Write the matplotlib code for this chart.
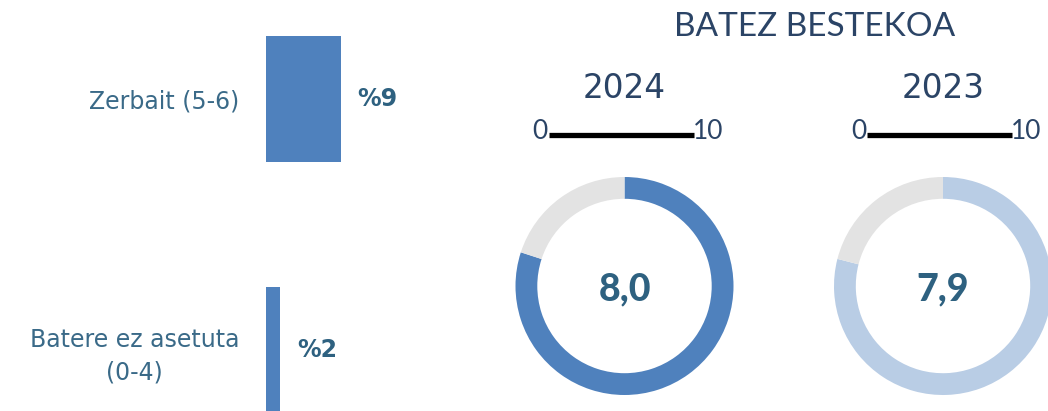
import matplotlib
matplotlib.use("Agg")
import matplotlib.pyplot as plt

plt.rcParams['font.family'] = ['Lato', 'DejaVu Sans']

# ---- data ----
categories = ["Zerbait (5-6)", "Batere ez asetuta\n(0-4)"]
shares = [9.0, 1.7]              # % (bar lengths)
share_labels = ["%9", "%2"]
years = ["2024", "2023"]
averages = [8.0, 7.9]            # mean score, scale 0-10
scale_max = 10
avg_labels = ["8,0", "7,9"]

BLUE = "#4F81BD"
LIGHT = "#B9CDE5"
GREY = "#E3E3E3"
NAVY = "#2B4466"
TEAL = "#3A6A88"
VAL = "#2E6180"
WIDE = ['DejaVu Sans']

W, H = 1048, 411
fig = plt.figure(figsize=(W / 100, H / 100), dpi=100)

def px_axes(x0, y0_top, w, h, **kw):
    return fig.add_axes([x0 / W, 1 - (y0_top + h) / H, w / W, h / H], **kw)

# ---- left: bars ----
axb = px_axes(266, 0, 200, 411)
ypos = list(range(len(categories)))
axb.barh(ypos, shares, height=0.502, color=BLUE)
axb.set_xlim(0, 24)
axb.set_ylim(1.243, -0.394)
axb.set_yticks(ypos)
axb.set_yticklabels(categories, fontsize=17, color=TEAL, family=WIDE)
for t in axb.get_yticklabels():
    t.set_multialignment('center')
    t.set_linespacing(1.4)
axb.tick_params(axis='y', length=0, pad=19)
axb.set_xticks([])
for s in axb.spines.values():
    s.set_visible(False)
for y, v, lab in zip(ypos, shares, share_labels):
    axb.annotate(lab, (v, y), xytext=(12, 0), textcoords='offset points',
                 ha='left', va='center', fontsize=17, fontweight='bold', color=VAL,
                 family=WIDE)

# ---- overlay for titles ----
axo = fig.add_axes([0, 0, 1, 1], zorder=-1)
axo.set_xlim(0, W)
axo.set_ylim(H, 0)
axo.axis('off')
axo.text(815, 27, "BATEZ BESTEKOA", ha='center', va='center', fontsize=24, color=NAVY)

centers = [624.5, 943]
R = 109
for cx, yr, avg, lab, col in zip(centers, years, averages, avg_labels, [BLUE, LIGHT]):
    axo.text(cx, 88, yr, ha='center', va='center', fontsize=23.5, color=NAVY, family=WIDE)
    # scale 0 — 10
    axo.plot([cx - 76, cx + 69], [135, 135], color='black', lw=3.8, solid_capstyle='butt')
    axo.text(cx - 77, 131, "0", ha='right', va='center', fontsize=19, color=NAVY)
    axo.text(cx + 68, 131, str(scale_max), ha='left', va='center', fontsize=19, color=NAVY)
    # donut
    axd = px_axes(cx - R, 286 - R, 2 * R, 2 * R)
    axd.pie([avg, scale_max - avg], colors=[col, GREY], startangle=90, counterclock=False,
            radius=1, wedgeprops=dict(width=0.2, linewidth=0))
    axd.set_xlim(-1, 1)
    axd.set_ylim(-1, 1)
    axd.set_aspect('equal')
    axd.axis('off')
    axd.text(0, -0.03, lab, ha='center', va='center', fontsize=27, fontweight='black', color=VAL)

fig.savefig("out.png", dpi=100)
